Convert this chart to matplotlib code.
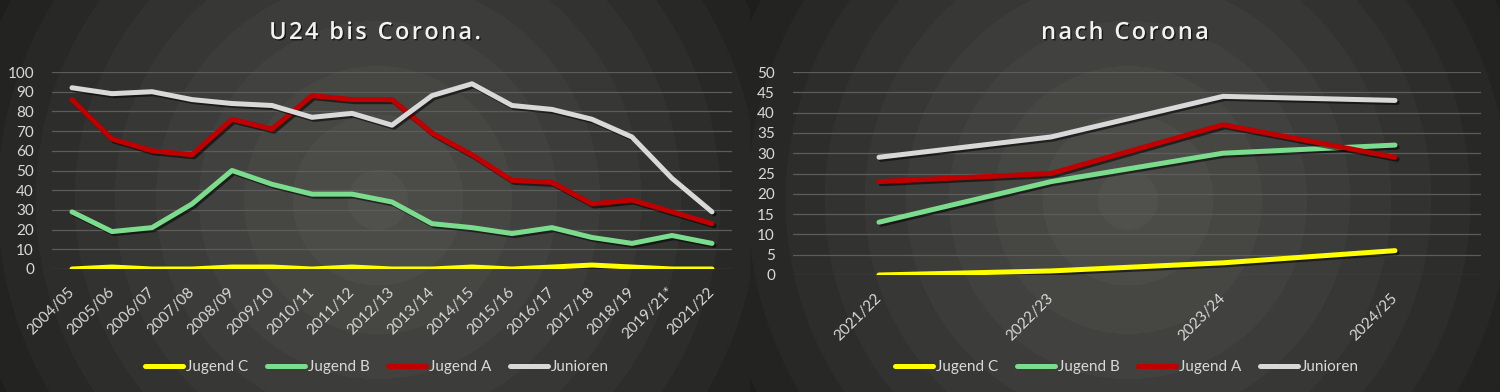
import numpy as np
import matplotlib
matplotlib.use("Agg")
from matplotlib import pyplot as plt
from matplotlib import patheffects as pe
from matplotlib.lines import Line2D

# data
seasons_pre = ['2004/05', '2005/06', '2006/07', '2007/08', '2008/09', '2009/10',
               '2010/11', '2011/12', '2012/13', '2013/14', '2014/15', '2015/16',
               '2016/17', '2017/18', '2018/19', '2019/21*', '2021/22']
jugend_c_pre = [0, 1, 0, 0, 1, 1, 0, 1, 0, 0, 1, 0, 1, 2, 1, 0, 0]
jugend_b_pre = [29, 19, 21, 33, 50, 43, 38, 38, 34, 23, 21, 18, 21, 16, 13, 17, 13]
jugend_a_pre = [86, 66, 60, 58, 76, 71, 88, 86, 86, 69, 58, 45, 44, 33, 35, 29, 23]
junioren_pre = [92, 89, 90, 86, 84, 83, 77, 79, 73, 88, 94, 83, 81, 76, 67, 46, 29]

seasons_post = ['2021/22', '2022/23', '2023/24', '2024/25']
jugend_c_post = [0, 1, 3, 6]
jugend_b_post = [13, 23, 30, 32]
jugend_a_post = [23, 25, 37, 29]
junioren_post = [29, 34, 44, 43]

names = ['Jugend C', 'Jugend B', 'Jugend A', 'Junioren']
colors = ['#FFFF00', '#7BDC8E', '#C00000', '#D9D9D9']
txt = '#D9D9D9'

plt.rcParams['font.family'] = ['Lato', 'DejaVu Sans']
plt.rcParams['font.size'] = 11

fig = plt.figure(figsize=(15, 3.92), dpi=100)

# background: two dark radial gradients, banded
bg = fig.add_axes([0, 0, 1, 1], zorder=-10)
xx, yy = np.meshgrid(np.arange(1500) + 0.5, np.arange(392) + 0.5)
cx = np.where(xx < 750, 378, 1128)
d = np.hypot(xx - cx, yy - 200)
g = 82 - 50 * np.clip(d / 440, 0, 1) ** 1.2
g = np.floor(g / 5) * 5 / 255
bg.imshow(np.dstack([g, g, g * 0.97]), extent=(0, 1500, 392, 0), aspect='auto')
bg.set_axis_off()

shadow = [pe.SimpleLineShadow(offset=(1.5, -1.5), shadow_color='black', alpha=0.55),
          pe.Normal()]


def setup(ax, cats, ymax, ystep, title, title_x):
    ax.set_facecolor('none')
    ax.set_xlim(-0.5, len(cats) - 0.5)
    ax.set_ylim(0, ymax)
    ax.set_yticks(np.arange(0, ymax + 1, ystep))
    ax.set_xticks(range(len(cats)))
    ax.set_xticklabels(cats, rotation=45, ha='right', va='center',
                       rotation_mode='anchor')
    ax.tick_params(length=0, colors=txt, labelsize=11)
    ax.tick_params(axis='y', pad=13)
    ax.tick_params(axis='x', pad=15)
    ax.grid(axis='y', color='#5C5C5C', linewidth=0.9)
    ax.set_axisbelow(True)
    for s in ax.spines.values():
        s.set_visible(False)
    # spaced-out title
    fig.text(title_x, 1 - 33 / 392, '\u200a'.join(title), ha='center', va='center',
             fontsize=17, fontweight='semibold', color='#F2F2F2',
             family=['Open Sans', 'DejaVu Sans'],
             path_effects=[pe.withSimplePatchShadow(offset=(1, -1), shadow_rgbFace='black', alpha=0.6)])


ax1 = fig.add_axes([52 / 1500, 1 - 269 / 392, 680 / 1500, 197 / 392])
setup(ax1, seasons_pre, 100, 10, 'U24 bis Corona.', 375 / 1500)
for vals, c in zip([jugend_c_pre, jugend_b_pre, jugend_a_pre, junioren_pre], colors):
    ax1.plot(range(len(seasons_pre)), vals, color=c, linewidth=3.6,
             solid_joinstyle='round', solid_capstyle='round', path_effects=shadow)

ax2 = fig.add_axes([793 / 1500, 1 - 275 / 392, 688 / 1500, 203 / 392])
setup(ax2, seasons_post, 50, 5, 'nach Corona', 1125 / 1500)
for vals, c in zip([jugend_c_post, jugend_b_post, jugend_a_post, junioren_post], colors):
    ax2.plot(range(len(seasons_post)), vals, color=c, linewidth=3.6,
             solid_joinstyle='round', solid_capstyle='round', path_effects=shadow)

handles = [Line2D([], [], color=c, linewidth=3.6, solid_capstyle='round') for c in colors]
for lx in [377 / 1500, 1127 / 1500]:
    fig.legend(handles, names, loc='center', bbox_to_anchor=(lx, 1 - 367 / 392),
               ncol=4, frameon=False, handlelength=2.5, handletextpad=0.2,
               columnspacing=1.2, labelcolor=txt, fontsize=11)

fig.savefig('out.png', dpi=100)
